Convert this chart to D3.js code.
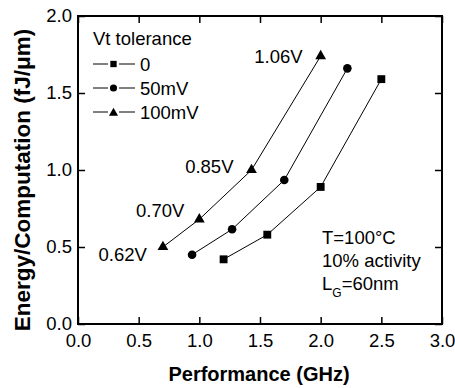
<!DOCTYPE html>
<html>
<head>
<meta charset="utf-8">
<script src="https://cdn.jsdelivr.net/npm/d3@7"></script>
<style>
body { margin: 0; background: #fff; }
text { font-family: "Liberation Sans", Arial, sans-serif; fill: #000; }
</style>
</head>
<body>
<div id="chart-area"></div>
<script>
var margin = {top: 16, right: 13, bottom: 64, left: 78};
var width = 455 - margin.left - margin.right;
var height = 388 - margin.top - margin.bottom;

// data
var seriesNames = ["0", "50mV", "100mV"];
var perf0 = [1.2, 1.56, 2.0, 2.5];
var energy0 = [0.42, 0.58, 0.89, 1.59];
var perf50 = [0.94, 1.27, 1.7, 2.22];
var energy50 = [0.45, 0.615, 0.935, 1.66];
var perf100 = [0.7, 1.0, 1.43, 2.0];
var energy100 = [0.5, 0.68, 1.0, 1.74];
var voltLabels = ["0.62V", "0.70V", "0.85V", "1.06V"];
var xTicks = [0, 0.5, 1.0, 1.5, 2.0, 2.5, 3.0];
var yTicks = [0, 0.5, 1.0, 1.5, 2.0];

// label offsets from their points (pixels)
var labelOffsets = [[-16, 14], [-15, -2], [-18, 3], [-18, 7]];

var series = [
	{name: seriesNames[0], x: perf0, y: energy0, sym: d3.symbolSquare, size: 62, legSize: 40},
	{name: seriesNames[1], x: perf50, y: energy50, sym: d3.symbolCircle, size: 58, legSize: 40},
	{name: seriesNames[2], x: perf100, y: energy100, sym: d3.symbolTriangle, size: 50, legSize: 36}
];

var svg = d3.select("#chart-area")
.append("svg")
	.attr("width", 455)
	.attr("height", 388);

var g = svg.append("g")
	.attr("transform", "translate(" + margin.left + ", " + margin.top + ")");

var x = d3.scaleLinear().domain([0, 3]).range([0, width]);
var y = d3.scaleLinear().domain([0, 2]).range([height, 0]);

// axes, ticks pointing in
g.append("g")
	.attr("transform", "translate(0," + height + ")")
	.call(d3.axisBottom(x).tickValues(xTicks).tickFormat(d3.format(".1f")).tickSizeInner(-7).tickSizeOuter(0).tickPadding(10));
g.append("g")
	.call(d3.axisLeft(y).tickValues(yTicks).tickFormat(d3.format(".1f")).tickSizeInner(-7).tickSizeOuter(0).tickPadding(6));
g.append("g")
	.call(d3.axisTop(x).tickValues(xTicks).tickFormat("").tickSizeInner(-7).tickSizeOuter(0));
g.append("g")
	.attr("transform", "translate(" + width + ",0)")
	.call(d3.axisRight(y).tickValues(yTicks).tickFormat("").tickSizeInner(-7).tickSizeOuter(0));

g.selectAll(".domain").attr("stroke", "none");
g.selectAll(".tick line").attr("stroke", "#000").attr("stroke-width", 1.5);
g.selectAll(".tick text")
	.attr("font-size", "18.5px")
	.attr("fill", "#000")
	.style("font-family", "Liberation Sans, Arial, sans-serif");

// frame
g.append("rect")
	.attr("width", width)
	.attr("height", height)
	.attr("fill", "none")
	.attr("stroke", "#000")
	.attr("stroke-width", 2);

var line = d3.line()
	.x(function(d) { return x(d[0]); })
	.y(function(d) { return y(d[1]); });

series.forEach(function(s) {
	var pts = s.x.map(function(v, i) { return [v, s.y[i]]; });
	g.append("path")
		.attr("d", line(pts))
		.attr("fill", "none")
		.attr("stroke", "#000")
		.attr("stroke-width", 1);
	g.selectAll(null).data(pts).enter().append("path")
		.attr("d", d3.symbol().type(s.sym).size(s.size))
		.attr("transform", function(d) { return "translate(" + x(d[0]) + "," + y(d[1]) + ")"; })
		.attr("fill", "#000");
});

// voltage labels next to the 100mV points
voltLabels.forEach(function(t, i) {
	g.append("text")
		.attr("x", x(perf100[i]) + labelOffsets[i][0])
		.attr("y", y(energy100[i]) + labelOffsets[i][1])
		.attr("text-anchor", "end")
		.attr("font-size", "18.5px")
		.text(t);
});

// legend
var legend = svg.append("g").attr("transform", "translate(93, 0)");
legend.append("text")
	.attr("x", 0)
	.attr("y", 45)
	.attr("font-size", "18.5px")
	.text("Vt tolerance");
series.forEach(function(s, i) {
	var row = legend.append("g")
		.attr("transform", "translate(0," + (64 + i * 24) + ")");
	row.append("line")
		.attr("x1", 0).attr("x2", 15)
		.attr("stroke", "#000").attr("stroke-width", 1);
	row.append("line")
		.attr("x1", 26).attr("x2", 42)
		.attr("stroke", "#000").attr("stroke-width", 1);
	row.append("path")
		.attr("d", d3.symbol().type(s.sym).size(s.legSize))
		.attr("transform", "translate(20.5," + (s.sym == d3.symbolTriangle ? 1 : 0) + ")")
		.attr("fill", "#000");
	row.append("text")
		.attr("x", 47)
		.attr("y", 7)
		.attr("font-size", "18.5px")
		.text(s.name);
});

// notes
var notes = svg.append("g").attr("transform", "translate(322, 0)");
notes.append("text").attr("y", 244).attr("font-size", "18.5px").text("T=100\u00B0C");
notes.append("text").attr("y", 267).attr("font-size", "18.5px").text("10% activity");
var lg = notes.append("text").attr("y", 290).attr("font-size", "18.5px");
lg.append("tspan").text("L");
lg.append("tspan").attr("dy", 7).attr("font-size", "12px").text("G");
lg.append("tspan").attr("dy", -7).text("=60nm");

// axis titles
svg.append("text")
	.attr("x", margin.left + width / 2 - 1)
	.attr("y", 381)
	.attr("text-anchor", "middle")
	.attr("font-size", "20px")
	.attr("font-weight", "bold")
	.text("Performance (GHz)");

svg.append("text")
	.attr("transform", "translate(30,180) rotate(-90)")
	.attr("text-anchor", "middle")
	.attr("font-size", "22.5px")
	.attr("font-weight", "bold")
	.text("Energy/Computation (fJ/\u03BCm)");
</script>
</body>
</html>
